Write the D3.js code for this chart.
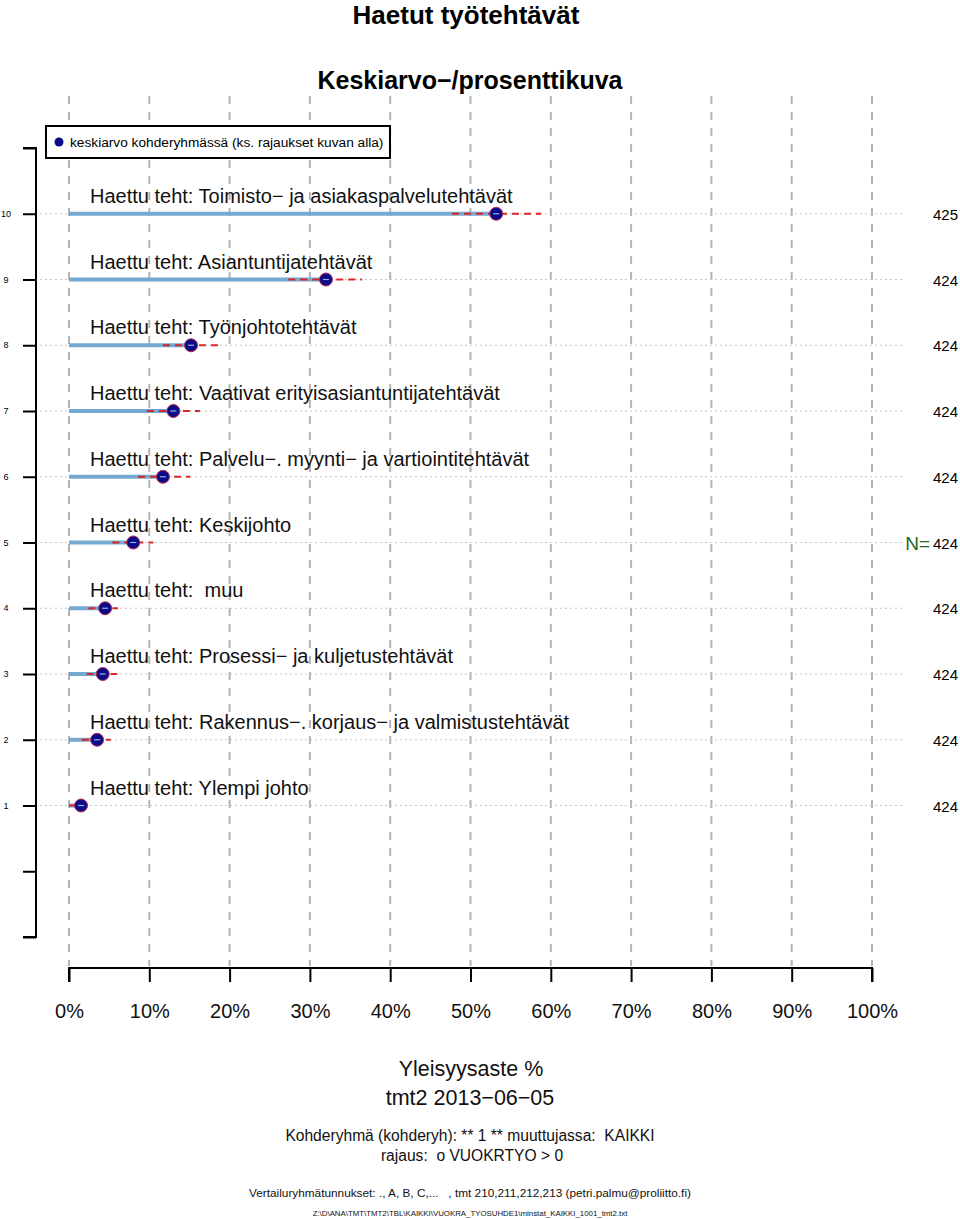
<!DOCTYPE html>
<html><head><meta charset="utf-8">
<script src="https://cdn.jsdelivr.net/npm/d3@7"></script>
<style>body{margin:0;background:#fff}svg{display:block;font-family:"Liberation Sans",Arial,sans-serif}svg text{white-space:pre}</style>
</head><body>
<script>
const categories = [
 "Haettu teht: Toimisto\u2212 ja asiakaspalvelutehtävät",
 "Haettu teht: Asiantuntijatehtävät",
 "Haettu teht: Työnjohtotehtävät",
 "Haettu teht: Vaativat erityisasiantuntijatehtävät",
 "Haettu teht: Palvelu\u2212. myynti\u2212 ja vartiointitehtävät",
 "Haettu teht: Keskijohto",
 "Haettu teht:  muu",
 "Haettu teht: Prosessi\u2212 ja kuljetustehtävät",
 "Haettu teht: Rakennus\u2212. korjaus\u2212 ja valmistustehtävät",
 "Haettu teht: Ylempi johto"
];
const rowPos = [10,9,8,7,6,5,4,3,2,1];
const means = [53.2, 32.0, 15.2, 13.0, 11.7, 8.0, 4.5, 4.2, 3.5, 1.5];
const ciLow = [47.7, 27.3, 11.7, 9.7, 8.6, 5.4, 2.4, 2.2, 1.6, 0.0];
const ciHigh = [58.8, 36.5, 18.6, 16.3, 15.1, 10.5, 6.1, 6.0, 5.2, 2.4];
const nValues = [425, 424, 424, 424, 424, 424, 424, 424, 424, 424];
const xTicks = [0,10,20,30,40,50,60,70,80,90,100];
const yTicks = [-1,0,1,2,3,4,5,6,7,8,9,10,11];
const yLabels = [1,2,3,4,5,6,7,8,9,10];

const W=960,H=1219;
const svg=d3.select("body").append("svg").attr("width",W).attr("height",H);
const x=d3.scaleLinear().domain([0,100]).range([69,872]);
const y=d3.scaleLinear().domain([-1,11]).range([937,148]);

// titles
svg.append("text").attr("x",466).attr("y",24).attr("text-anchor","middle").attr("font-weight","bold").attr("font-size",26).text("Haetut työtehtävät");
svg.append("text").attr("x",470).attr("y",89).attr("text-anchor","middle").attr("font-weight","bold").attr("font-size",25).text("Keskiarvo\u2212/prosenttikuva");

// vertical grid
svg.append("g").selectAll("line").data(xTicks).join("line")
 .attr("x1",d=>x(d)).attr("x2",d=>x(d)).attr("y1",96).attr("y2",966)
 .attr("stroke","#b4b4b4").attr("stroke-width",2).attr("stroke-dasharray","8,8");

// horizontal dotted row lines
svg.append("g").selectAll("line").data(rowPos).join("line")
 .attr("x1",40).attr("x2",905).attr("y1",d=>y(d)).attr("y2",d=>y(d))
 .attr("stroke","#c4c4c4").attr("stroke-width",1).attr("stroke-dasharray","2,3");

// left axis
const ya=svg.append("g").attr("transform","translate(36,0)").call(d3.axisLeft(y).tickValues(yTicks).tickSize(13).tickFormat(""));
ya.select(".domain").attr("stroke","#000").attr("stroke-width",2).attr("d",`M-13,${y(11)}H0V${y(-1)}H-13`);
ya.selectAll(".tick line").attr("stroke","#000").attr("stroke-width",2);
svg.append("g").selectAll("text").data(yLabels).join("text")
 .attr("x",6).attr("y",d=>y(d)+3).attr("text-anchor","middle").attr("font-size",9).text(d=>d);

// category labels
svg.append("g").selectAll("text").data(categories).join("text")
 .attr("x",90).attr("y",(d,i)=>y(rowPos[i])-11).attr("font-size",20).attr("fill","#111").text(d=>d);

// bars
svg.append("g").selectAll("line").data(means).join("line")
 .attr("x1",x(0)).attr("x2",d=>x(d)).attr("y1",(d,i)=>y(rowPos[i])).attr("y2",(d,i)=>y(rowPos[i]))
 .attr("stroke","#74a9d2").attr("stroke-width",4);
// CI
svg.append("g").selectAll("line").data(ciLow).join("line")
 .attr("x1",d=>x(d)).attr("x2",(d,i)=>x(ciHigh[i])).attr("y1",(d,i)=>y(rowPos[i])).attr("y2",(d,i)=>y(rowPos[i]))
 .attr("stroke","#d9262b").attr("stroke-width",2).attr("stroke-dasharray","7,5");
// points
const pts=svg.append("g").selectAll("g").data(means).join("g")
 .attr("transform",(d,i)=>`translate(${x(d)},${y(rowPos[i])})`);
pts.append("circle").attr("r",6.5).attr("fill","#0b0b8a").attr("stroke","#c02a4a").attr("stroke-width",1);
pts.append("line").attr("x1",-3).attr("x2",3).attr("stroke","#8fb8dc").attr("stroke-width",1.2);

// N labels
svg.append("g").selectAll("text").data(nValues).join("text")
 .attr("x",958).attr("y",(d,i)=>y(rowPos[i])+6).attr("text-anchor","end").attr("font-size",15).text(d=>d);
svg.append("text").attr("x",930).attr("y",y(5)+7).attr("text-anchor","end").attr("font-size",19).attr("fill","#1a6b1a").text("N=");

// bottom axis
const xa=svg.append("g").attr("transform","translate(0,968)").call(d3.axisBottom(x).tickValues(xTicks).tickSize(14).tickFormat(d=>d+"%").tickPadding(22));
xa.select(".domain").attr("stroke","#000").attr("stroke-width",2).attr("d",`M${x(0)},14V0H${x(100)}V14`);
xa.selectAll(".tick line").attr("stroke","#000").attr("stroke-width",2);
xa.selectAll(".tick text").attr("font-size",20).attr("fill","#111").attr("font-family","Liberation Sans, Arial, sans-serif");

// legend
const lg=svg.append("g");
lg.append("rect").attr("x",46).attr("y",126).attr("width",344).attr("height",32).attr("fill","#fff").attr("stroke","#000").attr("stroke-width",2);
lg.append("circle").attr("cx",59).attr("cy",142).attr("r",4.5).attr("fill","#0b0b8a");
lg.append("text").attr("x",70).attr("y",147).attr("font-size",13.7).text("keskiarvo kohderyhmässä (ks. rajaukset kuvan alla)");

// bottom texts
const bt=[
 {t:"Yleisyysaste %",y:1076,s:21.5,x:471},
 {t:"tmt2 2013\u221206\u221205",y:1105,s:21.5,x:470},
 {t:"Kohderyhmä (kohderyh): ** 1 ** muuttujassa:  KAIKKI",y:1141,s:15.6,x:470},
 {t:"rajaus:  o VUOKRTYO > 0",y:1161,s:15.6,x:472},
 {t:"Vertailuryhmätunnukset: ., A, B, C,...   , tmt 210,211,212,213 (petri.palmu@proliitto.fi)",y:1197,s:11.8,x:470},
 {t:"Z:\\D\\ANA\\TMT\\TMT2\\TBL\\KAIKKI\\VUOKRA_TYOSUHDE1\\minstat_KAIKKI_1001_tmt2.txt",y:1216,s:7.85,x:470}
];
svg.append("g").selectAll("text").data(bt).join("text")
 .attr("x",d=>d.x).attr("y",d=>d.y).attr("text-anchor","middle").attr("font-size",d=>d.s).attr("fill","#111").text(d=>d.t);
</script>
</body></html>
